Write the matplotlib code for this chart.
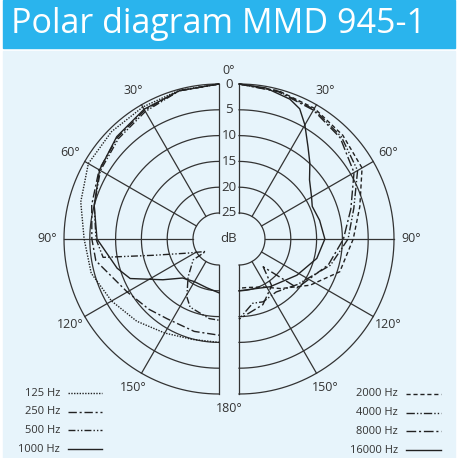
import numpy as np
import matplotlib
matplotlib.use('Agg')
import matplotlib.pyplot as plt
from matplotlib.patches import Rectangle

# ---- data: attenuation in dB vs angle (deg) ----
# left half: low frequencies
ang_125 = [0, 15, 30, 45, 60, 75, 90, 105, 120, 135, 150, 165, 180]
db_125 = [0, 0.2, 0.5, 0.6, 0.8, 2.3, 3.9, 4.4, 6.0, 7.5, 9.0, 9.9, 10.0]

ang_250 = [0, 15, 30, 45, 60, 75, 90, 100, 120, 135, 147, 165, 180]
db_250 = [0, 0.3, 1.2, 2.2, 3.2, 4.5, 5.4, 5.8, 9.5, 10.8, 11.6, 11.5, 11.4]

ang_500 = [0, 15, 30, 45, 60, 75, 90, 99, 104, 114, 133, 129, 141, 151, 157, 173, 180]
db_500 = [0, 0.3, 1.5, 2.5, 3.5, 5.0, 6.2, 7.3, 17.0, 23.3, 26.5, 23.6, 20.5, 17.2, 15.7, 14.5, 14.3]

ang_1000 = [0, 15, 30, 45, 60, 75, 90, 106, 114, 126, 137, 150, 166, 180]
db_1000 = [0, 0.3, 1.0, 2.0, 3.3, 5.0, 6.4, 9.5, 11.2, 16.6, 19.7, 20.5, 20.3, 19.6]

# right half: high frequencies
ang_2000 = [0, 15, 30, 45, 60, 75, 90, 108, 123, 140, 153, 170, 180]
db_2000 = [0, 0.3, 0.8, 1.6, 2.5, 5.8, 7.9, 9.5, 13.6, 17.5, 19.6, 20.5, 20.5]

ang_4000 = [0, 15, 30, 45, 60, 75, 90, 106, 128, 145, 159, 168, 180]
db_4000 = [0, 0.4, 1.0, 2.0, 3.5, 7.0, 8.9, 11.6, 15.7, 17.5, 17.0, 17.3, 14.5]

ang_8000 = [0, 15, 30, 45, 60, 75, 90, 106, 130, 139, 145, 160, 180]
db_8000 = [0, 0.5, 1.2, 2.3, 4.3, 7.6, 9.8, 12.0, 15.3, 22.9, 19.0, 16.5, 14.5]

ang_16000 = [0, 10, 20, 25, 30, 37, 43, 50, 60, 66, 77, 90, 104, 122, 147, 165, 180]
db_16000 = [0, 0.3, 1.2, 2.2, 4.5, 7.8, 9.9, 12.2, 13.8, 14.5, 14.0, 13.4, 14.5, 16.8, 19.0, 20.0, 20.0]

left_labels = ['125 Hz', '250 Hz', '500 Hz', '1000 Hz']
right_labels = ['2000 Hz', '4000 Hz', '8000 Hz', '16000 Hz']
ring_db = [0, 5, 10, 15, 20, 25]
spoke_deg = [0, 30, 60, 90, 120, 150, 180]

# ---- geometry (figure pixels) ----
CX_L, CX_R, CY = 219, 239, 239
R0, R25 = 155, 26
INK = '#333333'
FONT = 'Open Sans'


def to_xy(ang, db, side):
    t = np.radians(np.asarray(ang, float))
    r = R0 - (R0 - R25) * np.asarray(db, float) / 25.0
    cx, s = (CX_L, -1) if side == 'L' else (CX_R, 1)
    return cx + s * r * np.sin(t), CY - r * np.cos(t)


fig = plt.figure(figsize=(4.58, 4.58), dpi=100)
ax = fig.add_axes([0, 0, 1, 1])
ax.set_xlim(0, 458); ax.set_ylim(458, 0)
ax.axis('off')

ax.add_patch(Rectangle((3, 0), 452, 48, color='#2ab4ed', zorder=0))
ax.add_patch(Rectangle((3, 51), 452, 410, color='#e7f4fb', zorder=0))
ax.text(11, 33, 'Polar diagram MMD 945-1', color='white', fontsize=24.5,
        family=FONT, va='baseline', ha='left')

# grid
full = np.linspace(0, 180, 181)
for d in ring_db:
    for side in 'LR':
        x, y = to_xy(full, np.full_like(full, d), side)
        ax.plot(x, y, color=INK, lw=0.9, zorder=1)
for a in spoke_deg:
    for side in 'LR':
        x, y = to_xy([a, a], [0, 25], side)
        ax.plot(x, y, color=INK, lw=0.9, zorder=1)

fs = 9
for d in ring_db:
    ax.text(229, CY - (R0 - (R0 - R25) * d / 25), str(d), ha='center', va='center',
            fontsize=9.5, color=INK, family=FONT)
ax.text(229, CY, 'dB', ha='center', va='center', fontsize=9.5, color=INK, family=FONT)

for a in spoke_deg:
    if a in (0, 180):
        ax.text(229, CY - 171 * np.cos(np.radians(a)) + (2 if a == 0 else -2),
                f'{a}°', ha='center', va='center', fontsize=fs, color=INK, family=FONT)
        continue
    for side in 'LR':
        cx, s = (CX_L, -1) if side == 'L' else (CX_R, 1)
        t = np.radians(a)
        ax.text(cx + s * 172 * np.sin(t), CY - 172 * np.cos(t), f'{a}°', ha='center',
                va='center', fontsize=fs, color=INK, family=FONT)

# curves
styles_l = [(0, (1, 1)), (0, (6, 2, 1.5, 2)), (0, (5, 1.5, 1, 1.5, 1, 1.5)), '-']
styles_r = [(0, (3, 2)), (0, (6, 1.5, 1, 1.5, 1, 1.5)), (0, (7, 2, 1.5, 2)), '-']
left = [(ang_125, db_125), (ang_250, db_250), (ang_500, db_500), (ang_1000, db_1000)]
right = [(ang_2000, db_2000), (ang_4000, db_4000), (ang_8000, db_8000), (ang_16000, db_16000)]

for (a, d), ls in zip(left, styles_l):
    x, y = to_xy(a, d, 'L')
    ax.plot(x, y, color='#222222', lw=1.0, ls=ls, zorder=2)
for (a, d), ls in zip(right, styles_r):
    x, y = to_xy(a, d, 'R')
    ax.plot(x, y, color='#222222', lw=1.0, ls=ls, zorder=2)

# legends
for i, (lab, ls) in enumerate(zip(left_labels, styles_l)):
    yy = 393 + i * 18.7
    ax.text(60, yy, lab, ha='right', va='center', fontsize=8, color=INK, family=FONT)
    ax.plot([68, 102], [yy, yy], color='#222222', lw=1.0, ls=ls)
for i, (lab, ls) in enumerate(zip(right_labels, styles_r)):
    yy = 394 + i * 18.7
    ax.text(398, yy, lab, ha='right', va='center', fontsize=8, color=INK, family=FONT)
    ax.plot([406, 441], [yy, yy], color='#222222', lw=1.0, ls=ls)

fig.savefig('out.png', dpi=100)
